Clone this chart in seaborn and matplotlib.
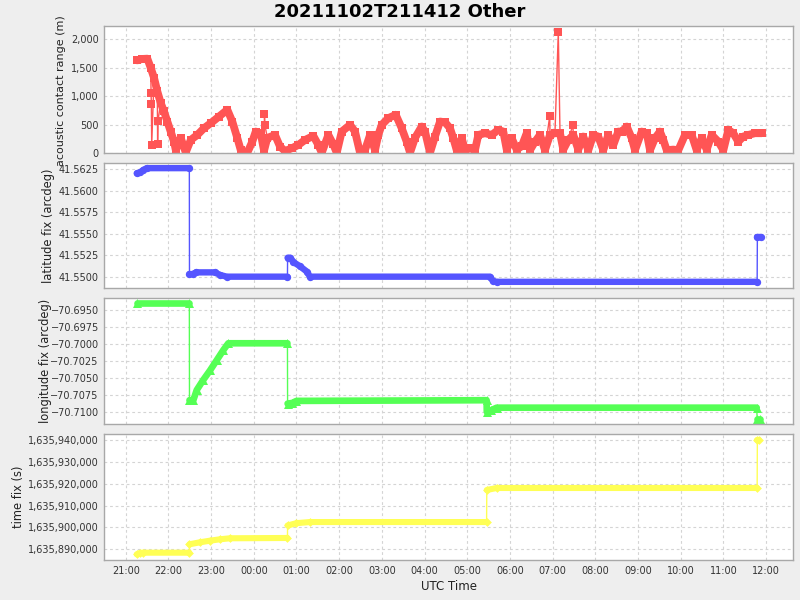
import numpy as np
import pandas as pd
import matplotlib
matplotlib.use('Agg')
import matplotlib.pyplot as plt
import matplotlib.dates as mdates
from matplotlib.ticker import StrMethodFormatter, MultipleLocator
import seaborn as sns

# minutes after 2021-11-02 21:00 UTC
t0 = pd.Timestamp('2021-11-02 21:00')

# acoustic contact range (main track)
range_min = [16.3, 23.0, 30.4, 35.1, 39.8, 44.4, 49.2, 53.8, 58.5, 63.2, 67.9, 70.3, 77.3, 84.3,
             91.4, 100.6, 110.0, 119.5, 131.1, 142.8, 149.8, 156.9, 161.6, 170.9, 177.9, 182.7,
             189.7, 194.4, 199.0, 209.8, 216.9, 223.9, 233.3, 242.6, 252.0, 263.7, 270.7, 275.5,
             284.8, 291.8, 296.6, 303.6, 315.3, 322.3, 329.3, 336.3, 343.4, 350.4, 355.0, 359.8,
             369.1, 379.5, 387.9, 394.9, 399.6, 406.6, 416.0, 420.7, 427.7, 434.7, 441.8, 448.8,
             455.8, 460.4, 465.2, 472.2, 476.9, 483.9, 490.9, 495.6, 505.0, 514.4, 523.7, 530.7,
             535.5, 542.5, 549.5, 556.6, 563.6, 568.2, 575.3, 582.3, 589.3, 596.3, 603.3, 610.4,
             615.0, 622.1, 629.1, 636.1, 643.1, 650.2, 657.2, 664.2, 671.2, 678.3, 685.3, 692.3,
             697.5, 704.2, 711.2, 715.8, 725.2, 732.3, 736.9, 743.9, 750.9, 755.6, 760.4, 769.6,
             776.7, 786.1, 795.5, 802.5, 809.6, 816.6, 823.6, 832.9, 840.0, 847.0, 854.0, 861.0,
             868.0, 875.1, 884.5, 893.9]
range_m = [1630, 1655, 1660, 1500, 1322, 1085, 880, 731, 554, 377, 200, 53, 265, 10,
           230, 318, 437, 525, 642, 761, 554, 260, 53, 5, 200, 377,
           348, 40, 265, 318, 112, 35, 83, 142, 230, 300, 142, 5,
           318, 150, 5, 377, 495, 377, 5, 50, 318, 50, 318, 495,
           614, 673, 437, 200, 5, 265, 466, 377, 5, 290, 554, 540,
           437, 260, 50, 260, 50, 80, 50, 318, 348, 318, 407, 377,
           60, 260, 60, 120, 348, 50, 200, 318, 50, 318, 348, 348,
           60, 230, 318, 60, 290, 50, 318, 290, 50, 318, 140, 377,
           377, 466, 260, 50, 377, 348, 50, 260, 377, 230, 50, 60,
           50, 318, 318, 50, 260, 60, 318, 200, 50, 407, 348, 200,
           290, 318, 348, 348]
# stray range fixes
odd_min = [35.6, 36.0, 36.5, 44.8, 45.3, 195.0, 195.6, 596.0, 608.0, 628.5]
odd_m = [1056, 867, 142, 159, 566, 685, 495, 655, 2130, 495]

# latitude fix
lat_min = [15.5, 20.0, 24.7, 29.5, 89.4,
           89.6, 94.0, 98.8, 125.5, 132.5, 142.0, 227.3,
           227.5, 231.5, 235.6, 245.0, 254.4, 259.0, 512.0, 516.0, 521.4, 887.5,
           887.8, 893.5]
lat_deg = [41.5620, 41.5621, 41.5624, 41.5626, 41.5626,
           41.5503, 41.5503, 41.5505, 41.5505, 41.5502, 41.5500, 41.5500,
           41.5522, 41.5522, 41.5517, 41.5512, 41.5506, 41.5500, 41.5500, 41.5495, 41.5494, 41.5494,
           41.5546, 41.5546]
lat_seg = [1] * 5 + [2] * 7 + [3] * 10 + [4] * 2

# longitude fix
lon_min = [15.5, 89.4,
           89.6, 95.0, 99.8, 109.0, 118.5, 127.9, 137.2, 144.2, 227.3,
           227.5, 234.0, 240.0, 507.2, 507.5, 513.0, 521.4, 886.9,
           887.5, 892.0]
lon_deg = [-70.6940, -70.6940,
           -70.7083, -70.7083, -70.7068, -70.7053, -70.7039, -70.7024, -70.7009, -70.6999, -70.6999,
           -70.7088, -70.7087, -70.7084, -70.7083, -70.7100, -70.7098, -70.7094, -70.7094,
           -70.7110, -70.7110]
lon_seg = [1] * 2 + [2] * 9 + [3] * 8 + [4] * 2

# time fix
tf_min = [15.5, 20.0, 24.0, 89.4,
          89.6, 104.4, 118.5, 132.5, 146.6, 227.3,
          227.5, 240.0, 259.0, 507.2,
          507.5, 521.4, 887.5,
          887.8, 890.5]
tf_s = [1635887713, 1635888300, 1635888445, 1635888445,
        1635892287, 1635893200, 1635893934, 1635894574, 1635895031, 1635895170,
        1635900880, 1635901950, 1635902460, 1635902460,
        1635917124, 1635918039, 1635918039,
        1635940100, 1635940100]
tf_seg = [1] * 4 + [2] * 6 + [3] * 4 + [4] * 3 + [5] * 2


def frame(mins, vals, segs):
    return pd.DataFrame({'t': t0 + pd.to_timedelta(mins, unit='min'), 'v': vals, 'seg': segs})


rng_main = frame(range_min, range_m, [1] * len(range_min))
rng_all = pd.concat([rng_main, frame(odd_min, odd_m, [1] * len(odd_min))]).sort_values('t')
lat = frame(lat_min, lat_deg, lat_seg)
lon = frame(lon_min, lon_deg, lon_seg)
tfx = frame(tf_min, tf_s, tf_seg)

sns.set_theme(style='white')
plt.rcParams['font.family'] = ['DejaVu Sans']

fig = plt.figure(figsize=(8, 6), dpi=100, facecolor='#eeeeee')
left, width = 0.1304, 0.8605
ax1 = fig.add_axes([left, 0.7450, width, 0.2117])
ax2 = fig.add_axes([left, 0.5195, width, 0.2093])
ax3 = fig.add_axes([left, 0.2933, width, 0.2095])
ax4 = fig.add_axes([left, 0.0667, width, 0.2095])


def draw(ax, band_df, df, color, marker, band, size):
    # thick band = the dense markers of each fix run
    sns.lineplot(data=band_df, x='t', y='v', units='seg', estimator=None, color=color,
                 lw=band, solid_capstyle='round', ax=ax, legend=False)
    # thin line joining consecutive fixes
    sns.lineplot(data=df, x='t', y='v', estimator=None, color=color, lw=1, ax=ax, legend=False)
    sns.scatterplot(data=df, x='t', y='v', color=color, marker=marker, s=size,
                    linewidth=0, ax=ax, legend=False)


draw(ax1, rng_main, rng_all, '#ff5555', 's', 5.6, 32)
draw(ax2, lat, lat, '#5555ff', 'o', 4.6, 28)
draw(ax3, lon, lon, '#55ff55', '^', 4.8, 42)
draw(ax4, tfx, tfx, '#ffff55', 'D', 4.4, 20)

ax1.set_ylim(0, 2235)
ax1.yaxis.set_major_locator(MultipleLocator(500))
ax1.yaxis.set_major_formatter(StrMethodFormatter('{x:,.0f}'))
ax1.set_ylabel('acoustic contact range (m)')
ax1.yaxis.set_label_coords(-0.056, 0.49)

ax2.set_ylim(41.54865, 41.56323)
ax2.yaxis.set_major_locator(MultipleLocator(0.0025))
ax2.yaxis.set_major_formatter(StrMethodFormatter('{x:.4f}'))
ax2.set_ylabel('latitude fix (arcdeg)')
ax2.yaxis.set_label_coords(-0.072, 0.5)

ax3.set_ylim(-70.71181, -70.69327)
ax3.yaxis.set_major_locator(MultipleLocator(0.0025))
ax3.yaxis.set_major_formatter(StrMethodFormatter('{x:.4f}'))
ax3.set_ylabel('longitude fix (arcdeg)')
ax3.yaxis.set_label_coords(-0.076, 0.5)

ax4.set_ylim(1635885106, 1635942607)
ax4.yaxis.set_major_locator(MultipleLocator(10000))
ax4.yaxis.set_major_formatter(StrMethodFormatter('{x:,.0f}'))
ax4.set_ylabel('time fix (s)')
ax4.yaxis.set_label_coords(-0.1155, 0.5)
ax4.set_xlabel('UTC Time', fontsize=8.5, labelpad=3, color='#222222')

for ax in [ax1, ax2, ax3, ax4]:
    ax.set_facecolor('white')
    ax.set_xlim(t0 - pd.Timedelta(minutes=30.1), t0 + pd.Timedelta(minutes=937.5))
    ax.xaxis.set_major_locator(mdates.HourLocator())
    ax.xaxis.set_major_formatter(mdates.DateFormatter('%H:%M'))
    ax.grid(True, color='#d4d4d4', ls=(0, (2.5, 2.5)), lw=0.8)
    ax.set_axisbelow(True)
    for sp in ax.spines.values():
        sp.set_color('#a8a8a8')
        sp.set_linewidth(1.0)
    ax.tick_params(axis='both', length=2, width=0.8, color='#a8a8a8', labelsize=7, pad=2,
                   labelcolor='#333333')
    ax.yaxis.label.set_size(8.3)
    ax.yaxis.label.set_color('#222222')
    if ax is not ax4:
        ax.set_xlabel('')
        ax.tick_params(axis='x', length=0, labelbottom=False)

ax1.yaxis.label.set_size(8.0)

fig.suptitle('20211102T211412 Other', fontsize=13, fontweight='bold', x=0.5, y=0.98,
             va='center', color='black')

fig.savefig('out.png', dpi=100, facecolor=fig.get_facecolor())
